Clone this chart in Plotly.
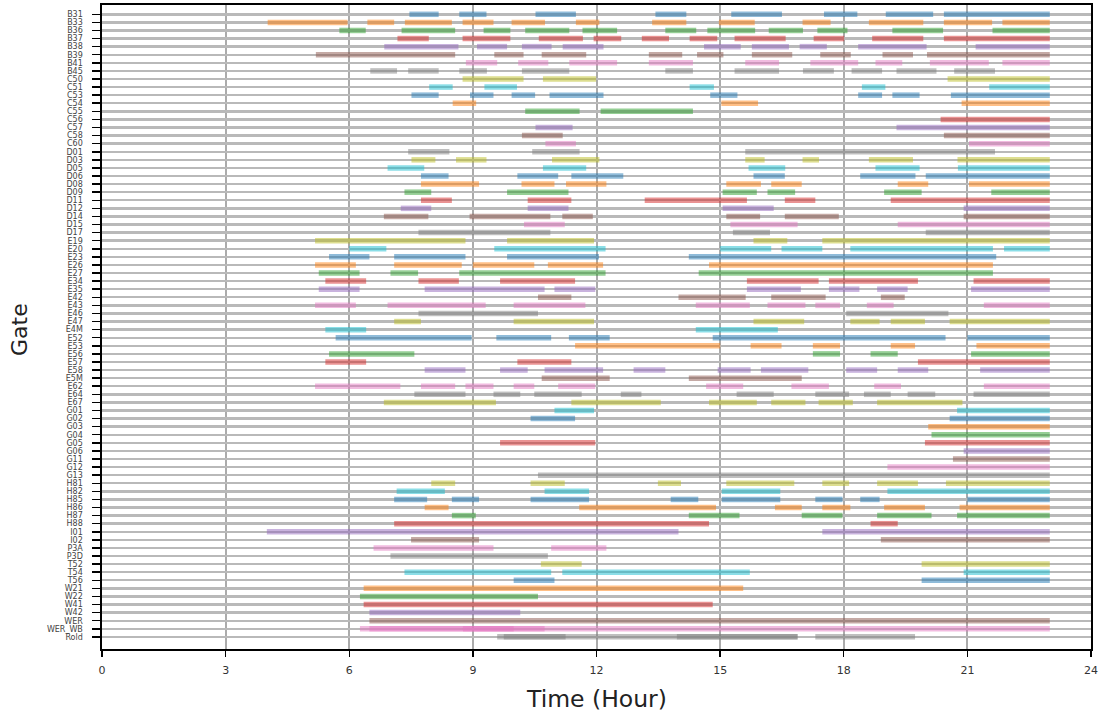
import plotly.graph_objects as go

gates = ["B31","B33","B36","B37","B38","B39","B41","B45",
         "C50","C51","C53","C54","C55","C56","C57","C58","C60",
         "D01","D03","D05","D06","D08","D09","D11","D12","D14","D15","D17",
         "E19","E20","E23","E26","E27","E34","E35","E42","E43","E46","E47","E4M",
         "E52","E53","E56","E57","E58","E5M","E62","E64","E67",
         "G01","G02","G03","G04","G05","G06","G11","G12","G13",
         "H81","H82","H85","H86","H87","H88","I01","I02","P3A","P3D",
         "T52","T54","T56","W21","W22","W41","W42","WER","WER_WB","Rold"]

# occupation intervals (start hour, end hour) per gate, same order as gates
gate_bars = [
    [(7.46,8.17),(8.67,9.33),(10.52,11.5),(13.43,14.18),(15.27,16.5),(17.52,18.33),(19.02,20.17),(20.43,23.0)],
    [(4.02,5.96),(6.44,7.09),(7.35,8.49),(8.75,9.5),(9.94,10.75),(11.5,12.07),(13.35,14.18),(14.97,15.84),(17.0,17.68),(18.61,19.93),(20.43,21.6),(21.85,23.0)],
    [(5.76,6.4),(7.27,8.57),(9.26,9.91),(10.27,11.34),(11.66,12.5),(13.67,14.42),(14.69,15.85),(16.18,17.01),(17.36,18.09),(19.18,20.41),(21.61,23.0)],
    [(7.17,7.93),(8.75,9.91),(10.6,11.67),(11.93,12.6),(13.1,13.76),(14.26,14.93),(15.35,16.59),(17.27,18.01),(18.69,19.93),(20.43,23.0)],
    [(6.85,8.65),(9.1,9.83),(10.19,10.91),(11.18,12.17),(14.61,15.5),(15.77,16.67),(16.93,17.59),(18.35,20.01),(21.2,23.0)],
    [(5.19,8.57),(9.52,10.23),(10.67,11.75),(13.27,14.08),(14.44,15.08),(15.77,16.75),(17.43,18.17),(18.94,19.68),(20.02,23.0)],
    [(8.83,9.59),(10.1,10.83),(11.34,12.5),(13.27,14.34),(15.61,16.43),(17.19,18.35),(18.77,19.42),(20.09,21.52),(21.85,23.0)],
    [(6.51,7.16),(7.43,8.17),(8.67,9.34),(10.19,11.34),(13.67,14.34),(15.35,16.43),(17.01,17.76),(18.19,18.93),(19.28,20.25),(20.68,21.67)],
    [(8.75,10.23),(10.7,11.99),(20.52,23.0)],
    [(7.94,8.51),(9.28,10.07),(14.26,14.85),(18.44,19.01),(21.53,23.0)],
    [(7.51,8.17),(8.93,9.5),(9.94,10.51),(10.86,12.17),(14.76,15.42),(18.35,18.93),(19.18,19.84),(20.6,23.0)],
    [(8.51,9.08),(15.03,15.92),(20.86,23.0)],
    [(10.27,11.59),(12.1,14.34)],
    [(20.35,23.0)],
    [(10.52,11.42),(19.28,23.0)],
    [(10.19,11.18),(20.43,23.0)],
    [(10.76,11.5),(21.04,23.0)],
    [(7.43,8.43),(10.44,11.59),(15.61,21.67)],
    [(7.51,8.09),(8.59,9.33),(10.92,12.07),(15.61,16.08),(17.0,17.4),(18.61,19.68),(20.76,23.0)],
    [(6.93,7.82),(10.7,11.75),(15.69,16.58),(18.77,19.84),(20.77,23.0)],
    [(7.74,8.41),(10.08,11.07),(11.39,12.65),(15.81,16.57),(18.4,19.74),(19.99,23.0)],
    [(7.74,9.15),(10.18,10.98),(11.26,12.24),(15.15,15.99),(16.24,16.98),(19.31,20.05),(21.04,23.0)],
    [(7.34,7.99),(9.83,11.32),(15.06,15.89),(16.15,16.82),(18.98,19.89),(21.58,23.0)],
    [(7.74,8.49),(10.33,11.39),(13.17,15.65),(16.57,17.31),(19.14,23.0)],
    [(7.25,7.99),(10.33,11.32),(15.06,16.3),(20.91,23.0)],
    [(6.84,7.92),(8.92,10.88),(11.17,11.91),(15.15,15.97),(16.57,17.88),(20.91,23.0)],
    [(10.24,11.23),(15.25,16.88),(19.31,23.0)],
    [(7.68,10.88),(15.31,16.21),(19.99,23.0)],
    [(5.17,8.82),(9.83,11.94),(15.81,16.63),(17.48,23.0)],
    [(6.0,6.9),(9.52,12.22),(15.0,16.24),(16.49,17.48),(18.16,21.62),(21.89,23.0)],
    [(5.51,6.49),(7.09,8.82),(9.83,12.06),(14.24,21.7)],
    [(5.17,6.16),(7.09,8.73),(9.0,10.49),(10.82,12.16),(14.73,21.62)],
    [(5.26,6.25),(7.0,7.67),(8.67,12.22),(14.48,21.62)],
    [(5.42,6.41),(7.68,8.66),(9.66,11.48),(15.65,17.39),(17.64,19.8),(21.15,23.0)],
    [(5.26,6.25),(7.83,10.74),(10.98,11.97),(15.65,16.96),(17.64,18.38),(18.81,19.55),(21.09,23.0)],
    [(10.58,11.39),(13.99,15.62),(16.24,17.56),(18.9,19.48)],
    [(5.17,6.16),(6.93,9.31),(9.99,11.73),(14.41,15.72),(16.15,17.07),(17.31,17.91),(18.56,19.21),(21.4,23.0)],
    [(7.68,10.58),(18.06,20.54)],
    [(7.09,7.74),(9.99,11.94),(15.81,17.04),(18.16,18.87),(19.14,19.97),(20.57,23.0)],
    [(5.42,6.41),(14.41,16.4)],
    [(5.67,8.97),(9.57,10.9),(11.33,12.32),(14.82,20.47),(21.0,23.0)],
    [(11.48,15.0),(15.74,16.49),(17.25,17.91),(19.14,19.73),(21.22,23.0)],
    [(5.51,7.58),(17.25,17.91),(18.65,19.31),(21.09,23.0)],
    [(5.42,6.41),(10.08,11.39),(19.8,23.0)],
    [(7.83,8.82),(9.66,10.33),(10.74,12.16),(12.9,13.67),(14.94,15.74),(15.99,17.14),(18.06,18.81),(19.31,20.05),(21.31,23.0)],
    [(10.67,12.32),(14.24,16.98)],
    [(5.17,7.24),(7.74,8.57),(8.82,9.5),(9.99,10.49),(11.07,11.97),(14.66,15.56),(16.73,17.64),(18.74,19.39),(21.4,23.0)],
    [(7.58,8.82),(9.5,10.15),(10.49,11.64),(12.59,13.09),(15.4,16.3),(17.31,18.13),(18.49,19.14),(19.55,20.22),(21.15,23.0)],
    [(6.84,9.56),(11.39,13.56),(14.73,15.89),(16.24,17.07),(17.39,18.22),(18.81,20.88)],
    [(10.98,11.94),(20.75,23.0)],
    [(10.4,11.48),(20.57,23.0)],
    [(20.05,23.0)],
    [(20.13,23.0)],
    [(9.66,11.97),(19.97,23.0)],
    [(20.91,23.0)],
    [(20.65,23.0)],
    [(19.06,23.0)],
    [(10.58,23.0)],
    [(7.99,8.57),(10.4,11.23),(13.49,14.05),(15.15,16.8),(17.48,18.13),(18.81,19.8),(20.48,23.0)],
    [(7.15,8.32),(10.74,11.82),(15.04,16.46),(19.06,23.0)],
    [(7.09,7.89),(8.49,9.15),(10.4,11.82),(13.8,14.47),(15.04,16.46),(17.31,17.97),(18.4,18.87),(21.0,23.0)],
    [(7.83,8.41),(11.58,14.9),(16.33,16.98),(17.48,18.16),(18.98,19.97),(20.81,23.0)],
    [(8.49,9.07),(14.24,15.47),(16.98,17.97),(18.81,20.13),(20.75,23.0)],
    [(7.09,14.73),(18.65,19.31)],
    [(4.0,13.99),(17.48,23.0)],
    [(7.5,9.15),(18.9,23.0)],
    [(6.59,9.5),(10.9,12.24)],
    [(7.0,10.82)],
    [(10.65,11.64),(19.89,23.0)],
    [(7.34,10.9),(11.17,15.72),(20.91,23.0)],
    [(9.99,10.98),(19.89,23.0)],
    [(6.35,15.56)],
    [(6.26,10.58)],
    [(6.35,14.82)],
    [(6.49,10.15)],
    [(6.49,23.0)],
    [(6.26,23.0),(6.49,10.74),(8.76,9.99)],
    [(9.59,16.88),(9.75,11.25),(13.95,16.88),(17.31,19.73)],
]

x_ticks = [0, 3, 6, 9, 12, 15, 18, 21, 24]

palette = ["#1f77b4", "#ff7f0e", "#2ca02c", "#d62728", "#9467bd",
           "#8c564b", "#e377c2", "#7f7f7f", "#bcbd22", "#17becf"]

def rgba(hx, a):
    h = hx.lstrip("#")
    return f"rgba({int(h[0:2],16)},{int(h[2:4],16)},{int(h[4:6],16)},{a})"

ys, bases, lens, cols = [], [], [], []
for i, (g, bars) in enumerate(zip(gates, gate_bars)):
    for s, e in bars:
        ys.append(g)
        bases.append(s)
        lens.append(e - s)
        cols.append(rgba(palette[i % 10], 0.5))

fig = go.Figure()
fig.add_trace(go.Bar(
    y=ys, x=lens, base=bases, orientation="h",
    marker=dict(color=cols, line=dict(width=0)),
    width=0.68, hoverinfo="skip", showlegend=False,
))

FONT = "DejaVu Sans"
L, R, T, B = 102, 9, 5, 68
W, H = 1100, 717
pw, ph = W - L - R, H - T - B

fig.update_layout(
    width=W, height=H,
    margin=dict(l=L, r=R, t=T, b=B, autoexpand=False),
    paper_bgcolor="white", plot_bgcolor="white",
    barmode="overlay",
    font=dict(family=FONT, color="#222"),
    xaxis=dict(
        range=[0, 24], tickmode="array", tickvals=x_ticks,
        ticktext=[str(v) for v in x_ticks],
        showgrid=True, gridcolor="#ababab", gridwidth=2,
        zeroline=False, automargin=False,
        showline=True, linecolor="black", linewidth=1.6, mirror=True,
        ticks="outside", ticklen=6, tickwidth=1.3, tickcolor="black",
        tickfont=dict(size=11, color="#333"), ticklabelstandoff=4,
    ),
    yaxis=dict(
        type="category", categoryorder="array", categoryarray=gates,
        range=[78.5, -1.15], automargin=False,
        tickmode="array", tickvals=gates, ticktext=gates,
        showgrid=True, gridcolor="#b9b9b9", gridwidth=2.4,
        zeroline=False,
        showline=True, linecolor="black", linewidth=1.6, mirror=True,
        ticks="outside", ticklen=8, tickwidth=1.5, tickcolor="black",
        tickfont=dict(size=8, color="#444"), ticklabelstandoff=8,
    ),
    annotations=[
        dict(text="Time (Hour)", xref="paper", yref="paper",
             x=0.5, y=(H - B - 699) / ph, xanchor="center", yanchor="middle",
             showarrow=False, font=dict(size=23.5, family=FONT, color="#222")),
        dict(text="Gate", xref="paper", yref="paper",
             x=(20 - L) / pw, y=(H - B - 330) / ph,
             xanchor="center", yanchor="middle", textangle=-90,
             showarrow=False, font=dict(size=22, family=FONT, color="#222")),
    ],
)

fig.write_html("out.html",
               config={"displayModeBar": False, "staticPlot": True},
               post_script="document.body.style.margin='0';document.body.style.overflow='hidden';")
